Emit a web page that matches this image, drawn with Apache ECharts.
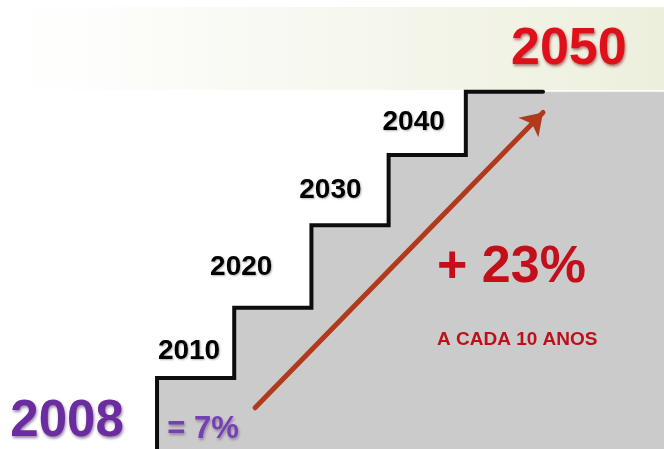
<!DOCTYPE html>
<html>
<head>
<meta charset="utf-8">
<script src="https://cdn.jsdelivr.net/npm/echarts@6/dist/echarts.min.js"></script>
<style>
html,body{margin:0;padding:0;background:#fff;}
#chart{width:664px;height:449px;}
</style>
</head>
<body>
<div id="chart"></div>
<script>
// ---- data ----
const years = ['2008', '2010', '2020', '2030', '2040', '2050'];
const stepLevels = [0, 1.0, 1.99, 3.15, 4.14, 5.03];   // tread height reached in each year
const arrowFrom = [1.27, 0.58];
const arrowTo = [5.0, 4.74];
const startText = '= 7%';
const growthText = '+ 23%';
const growthNote = 'A CADA 10 ANOS';

// ---- build ----
const last = years.length - 1;
const stair = years.map((y, k) => [Math.max(k - 1, 0), stepLevels[k]]);
stair.push([last, stepLevels[last]]);
const X_MIN = -2.034, X_MAX = 6.567, Y_MAX = 6.324;
const area = stair.slice();
area.push([X_MAX, stepLevels[last]]);

const FONT = '"Liberation Sans", Arial, sans-serif';
const noBorder = { textBorderWidth: 0, textBorderColor: 'transparent', opacity: 1 };
const labelStyles = [
  { offset: [-90, -27], fontSize: 51, color: '#6a2c9e', textShadowColor: 'rgba(50,10,80,0.5)', textShadowBlur: 3, textShadowOffsetX: 1, textShadowOffsetY: 2 },
  { offset: [32, -27], fontSize: 28, color: '#000' },
  { offset: [7, -40], fontSize: 28, color: '#000' },
  { offset: [19, -35], fontSize: 28, color: '#000' },
  { offset: [25, -33], fontSize: 28, color: '#000' },
  { offset: [103, -42], fontSize: 52, color: '#e0101a', textShadowColor: 'rgba(90,0,0,0.5)', textShadowBlur: 3, textShadowOffsetX: 1, textShadowOffsetY: 2 }
];
const yearLabelData = years.map((y, k) => ({
  value: stair[k],
  name: y,
  label: Object.assign({ show: true }, noBorder, labelStyles[k])
}));

const chart = echarts.init(document.getElementById('chart'), null, { renderer: 'canvas' });
chart.setOption({
  animation: false,
  backgroundColor: '#ffffff',
  grid: { left: 0, right: 0, top: 0, bottom: 0, containLabel: false },
  xAxis: { type: 'value', min: X_MIN, max: X_MAX, show: false },
  yAxis: { type: 'value', min: 0, max: Y_MAX, show: false },
  graphic: [
    {
      type: 'rect', z: -10, silent: true,
      shape: { x: 0, y: 7, width: 664, height: 83 },
      style: {
        fill: new echarts.graphic.LinearGradient(0, 0, 1, 0, [
          { offset: 0, color: 'rgba(255,255,255,1)' },
          { offset: 0.1, color: '#fefefd' },
          { offset: 1, color: '#edefdd' }
        ])
      }
    },
    {
      type: 'text', z: 50, left: 437, top: 242,
      style: {
        text: growthText, font: 'bold 52px ' + FONT, fill: '#c20f1a',
        shadowColor: 'rgba(80,0,0,0.45)', shadowBlur: 3, shadowOffsetX: 1, shadowOffsetY: 2
      }
    },
    {
      type: 'text', z: 50, left: 437, top: 330,
      style: {
        text: growthNote, font: 'bold 19px ' + FONT, fill: '#bd101b',
        shadowColor: 'rgba(80,0,0,0.35)', shadowBlur: 2, shadowOffsetX: 1, shadowOffsetY: 1
      }
    }
  ],
  series: [
    {
      type: 'line', name: 'area', data: area, step: 'end', symbol: 'none', clip: false,
      lineStyle: { width: 0 }, areaStyle: { color: '#cbcbcb', opacity: 1 }, z: 1, silent: true
    },
    {
      type: 'line', name: 'stairs', data: stair, step: 'end', symbol: 'none', clip: false,
      lineStyle: { color: '#0d0d0d', width: 4, join: 'miter', cap: 'round' }, z: 3, silent: true
    },
    {
      type: 'line', name: 'trend', data: [], symbol: 'none', silent: true, z: 4,
      markLine: {
        silent: true, animation: false,
        symbol: ['none', 'arrow'], symbolSize: 21,
        label: { show: false },
        lineStyle: { color: '#b03a1b', width: 5, type: 'solid', cap: 'round' },
        data: [[{ coord: arrowFrom }, { coord: arrowTo }]]
      }
    },
    {
      type: 'scatter', name: 'years', data: yearLabelData, symbolSize: 0, z: 5, silent: true,
      itemStyle: { opacity: 1 },
      label: {
        show: true, position: 'inside', formatter: p => p.name,
        fontFamily: FONT, fontWeight: 'bold', textBorderWidth: 0,
        textShadowColor: 'rgba(0,0,0,0.3)', textShadowBlur: 2, textShadowOffsetX: 1, textShadowOffsetY: 1
      }
    },
    {
      type: 'scatter', name: 'start', data: [{ value: stair[0], name: startText }], symbolSize: 0, z: 5, silent: true,
      itemStyle: { opacity: 1 },
      label: {
        show: true, position: 'inside', formatter: p => p.name, offset: [46, -20],
        fontFamily: FONT, fontWeight: 'bold', fontSize: 31, color: '#7640b5', opacity: 1,
        textBorderWidth: 0, textBorderColor: 'transparent',
        textShadowColor: 'rgba(50,20,80,0.4)', textShadowBlur: 3, textShadowOffsetX: 1, textShadowOffsetY: 2
      }
    }
  ]
});
</script>
</body>
</html>
